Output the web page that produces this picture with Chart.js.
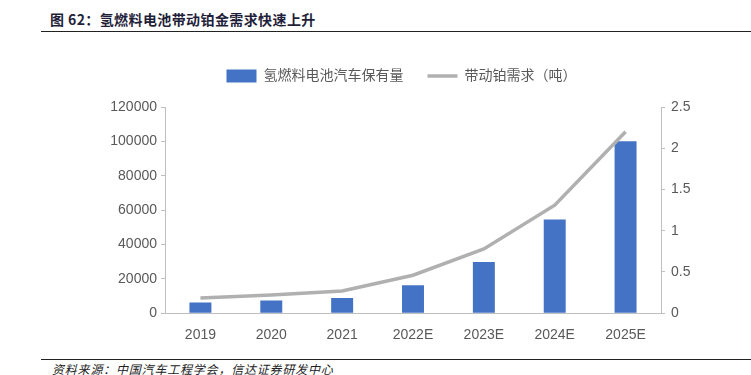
<!DOCTYPE html>
<html>
<head>
<meta charset="utf-8">
<script src="https://cdn.jsdelivr.net/npm/chart.js@4"></script>
<style>
  body { margin: 0; width: 751px; height: 375px; background: #fff; position: relative; overflow: hidden; }
  #title { position: absolute; left: 50px; top: 9px; font: bold 14px "Noto Sans CJK SC", "Liberation Sans", sans-serif; color: #1f1f3a; letter-spacing: 0.4px; }
  #topline { position: absolute; left: 41px; right: 0; top: 31px; border-top: 1px solid #222; }
  #bottomline { position: absolute; left: 41px; right: 0; top: 359px; border-top: 1px solid #222; }
  #source { position: absolute; left: 52px; top: 360px; font: italic 12px "Noto Sans CJK SC", sans-serif; color: #222; letter-spacing: 0.8px; }
  #wrap { position: absolute; left: 0; top: 40px; width: 751px; height: 310px; }
</style>
</head>
<body>
<div id="title">图 62：氢燃料电池带动铂金需求快速上升</div>
<div id="topline"></div>
<div id="wrap"><canvas id="chart"></canvas></div>
<div id="bottomline"></div>
<div id="source">资料来源：中国汽车工程学会，信达证券研发中心</div>
<script>
  // 年份
  const years = ['2019', '2020', '2021', '2022E', '2023E', '2024E', '2025E']
  // 氢燃料电池汽车保有量（辆）
  const vehicleStock = [6200, 7400, 8900, 16200, 29800, 54500, 100000]
  // 带动铂需求（吨）
  const platinumDemand = [0.185, 0.22, 0.27, 0.46, 0.78, 1.31, 2.2]

  const fontFamily = '"Liberation Sans", "Noto Sans CJK SC", sans-serif'
  const axisGray = '#bfbfbf'
  const textGray = '#595959'

  // 图例与绘图区之间留出更多空白
  const legendGap = {
    id: 'legendGap',
    beforeInit(chart) {
      const fit = chart.legend.fit
      chart.legend.fit = function () {
        fit.bind(chart.legend)()
        this.height += 14
      }
    },
  }

  new Chart(document.getElementById('chart').getContext('2d'), {
    data: {
      labels: years,
      datasets: [
        {
          type: 'bar',
          label: '氢燃料电池汽车保有量',
          data: vehicleStock,
          backgroundColor: '#4472c4',
          pointStyle: 'rect',
          barPercentage: 0.62,
          categoryPercentage: 0.5,
          yAxisID: 'y',
          order: 2,
        },
        {
          type: 'line',
          label: '带动铂需求（吨）',
          data: platinumDemand,
          borderColor: '#b0b0b0',
          backgroundColor: '#b0b0b0',
          borderWidth: 3.5,
          pointRadius: 0,
          pointStyle: 'line',
          tension: 0,
          yAxisID: 'y1',
          order: 1,
        },
      ],
    },
    options: {
      responsive: true,
      maintainAspectRatio: false,
      animation: false,
      layout: { padding: { left: 100, right: 48, top: 5, bottom: 0 } },
      plugins: {
        legend: {
          position: 'top',
          labels: {
            usePointStyle: true,
            pointStyleWidth: 30,
            boxHeight: 13,
            padding: 24,
            color: textGray,
            font: { family: fontFamily, size: 14 },
            sort: (a, b) => a.datasetIndex - b.datasetIndex,
          },
        },
        tooltip: { enabled: false },
      },
      scales: {
        x: {
          grid: { display: false },
          border: { color: axisGray },
          ticks: { color: textGray, font: { family: fontFamily, size: 14 }, padding: 6 },
        },
        y: {
          position: 'left',
          min: 0,
          max: 120000,
          afterFit: (s) => { s.width = 65 },
          grid: { drawOnChartArea: false, color: axisGray, tickLength: 4 },
          border: { color: axisGray },
          ticks: {
            stepSize: 20000,
            color: textGray,
            font: { family: fontFamily, size: 14 },
            padding: 4,
            callback: (v) => String(v),
          },
        },
        y1: {
          position: 'right',
          min: 0,
          max: 2.5,
          afterFit: (s) => { s.width = 42 },
          grid: { drawOnChartArea: false, color: axisGray, tickLength: 4 },
          border: { color: axisGray },
          ticks: {
            stepSize: 0.5,
            color: textGray,
            font: { family: fontFamily, size: 14 },
            padding: 6,
            callback: (v) => String(v),
          },
        },
      },
    },
    plugins: [legendGap],
  })
</script>
</body>
</html>
